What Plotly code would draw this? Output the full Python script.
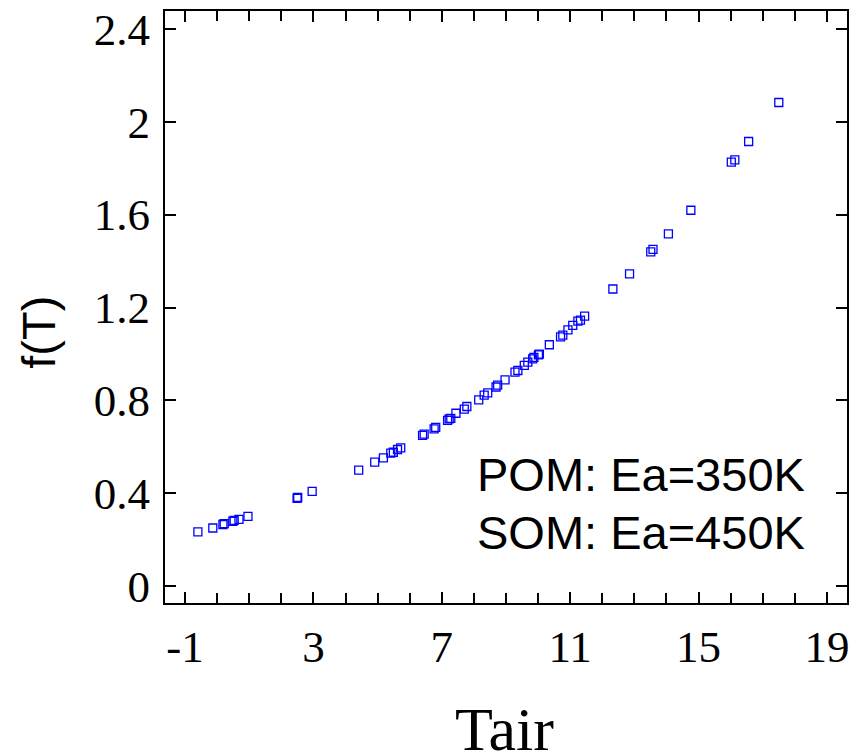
import plotly.graph_objects as go

# Data
tair = [-0.60, -0.135, 0.18, 0.22, 0.49, 0.53, 0.68, 0.96,
        2.49, 2.51, 2.96, 4.41, 4.91, 5.18, 5.41, 5.49, 5.62, 5.72,
        6.40, 6.45, 6.76, 6.81, 7.18, 7.23, 7.28, 7.44, 7.70, 7.78,
        8.15, 8.32, 8.43, 8.69, 8.74, 8.97, 9.28, 9.37, 9.57, 9.68,
        9.83, 9.87, 10.01, 10.04, 10.35, 10.70, 10.77, 10.93, 11.08,
        11.24, 11.32, 11.45, 12.33, 12.85, 13.51, 13.58, 14.06, 14.76,
        16.02, 16.13, 16.56, 17.50]
fT = [0.234, 0.251, 0.266, 0.270, 0.280, 0.284, 0.288, 0.301,
      0.379, 0.383, 0.409, 0.500, 0.535, 0.553, 0.573, 0.577, 0.589, 0.596,
      0.650, 0.655, 0.678, 0.684, 0.714, 0.721, 0.723, 0.745, 0.763, 0.774,
      0.803, 0.823, 0.833, 0.858, 0.866, 0.889, 0.922, 0.929, 0.951, 0.965,
      0.979, 0.986, 0.996, 1.000, 1.040, 1.074, 1.081, 1.104, 1.123,
      1.142, 1.146, 1.163, 1.280, 1.345, 1.440, 1.451, 1.517, 1.619,
      1.826, 1.836, 1.915, 2.083]

x_tickvals = [-1, 3, 7, 11, 15, 19]
x_ticktext = ["-1", "3", "7", "11", "15", "19"]
y_tickvals = [0, 0.4, 0.8, 1.2, 1.6, 2.0, 2.4]
y_ticktext = ["0", "0.4", "0.8", "1.2", "1.6", "2", "2.4"]
note_lines = ["POM: Ea=350K", "SOM: Ea=450K"]

fig = go.Figure()
fig.add_trace(go.Scatter(
    x=tair, y=fT, mode="markers",
    marker=dict(symbol="square-open", size=8, color="#0000ff",
                line=dict(width=1.3, color="#0000ff")),
    showlegend=False,
))

axis_common = dict(
    showline=True, linecolor="black", linewidth=2, mirror="allticks",
    ticks="inside", ticklen=11, tickwidth=1.5, tickcolor="black",
    showgrid=False, zeroline=False,
    tickfont=dict(family="Liberation Serif", size=45, color="black"),
)

fig.update_xaxes(
    range=[-1.625, 19.625], tickmode="array", tickvals=x_tickvals,
    ticktext=x_ticktext, ticklabelstandoff=3,
    minor=dict(dtick=1, tick0=0, ticks="inside", ticklen=10,
               tickwidth=1.5, tickcolor="black", showgrid=False),
    **axis_common,
)
fig.update_yaxes(
    range=[-0.072, 2.477], tickmode="array", tickvals=y_tickvals,
    ticktext=y_ticktext, ticklabelstandoff=4,
    **axis_common,
)

for line_text, ypos in zip(note_lines, [0.2174, 0.1187]):
    fig.add_annotation(
        text=line_text, xref="paper", yref="paper",
        x=0.941, y=ypos, xanchor="right", yanchor="middle", align="right",
        showarrow=False,
        font=dict(family="Liberation Sans", size=47, color="black"),
    )
fig.add_annotation(
    text="Tair", xref="paper", yref="paper", x=0.498, y=-0.212,
    xanchor="center", yanchor="middle", showarrow=False,
    font=dict(family="Liberation Serif", size=62, color="black"),
)
fig.add_annotation(
    text="f(T)", xref="paper", yref="paper", x=-0.185, y=0.458,
    xanchor="center", yanchor="middle", textangle=-90, showarrow=False,
    font=dict(family="Liberation Sans", size=47, color="black"),
)

fig.update_layout(
    width=858, height=756,
    margin=dict(l=165, r=11, t=5, b=153),
    paper_bgcolor="white", plot_bgcolor="white",
)

fig.write_html("out.html")
